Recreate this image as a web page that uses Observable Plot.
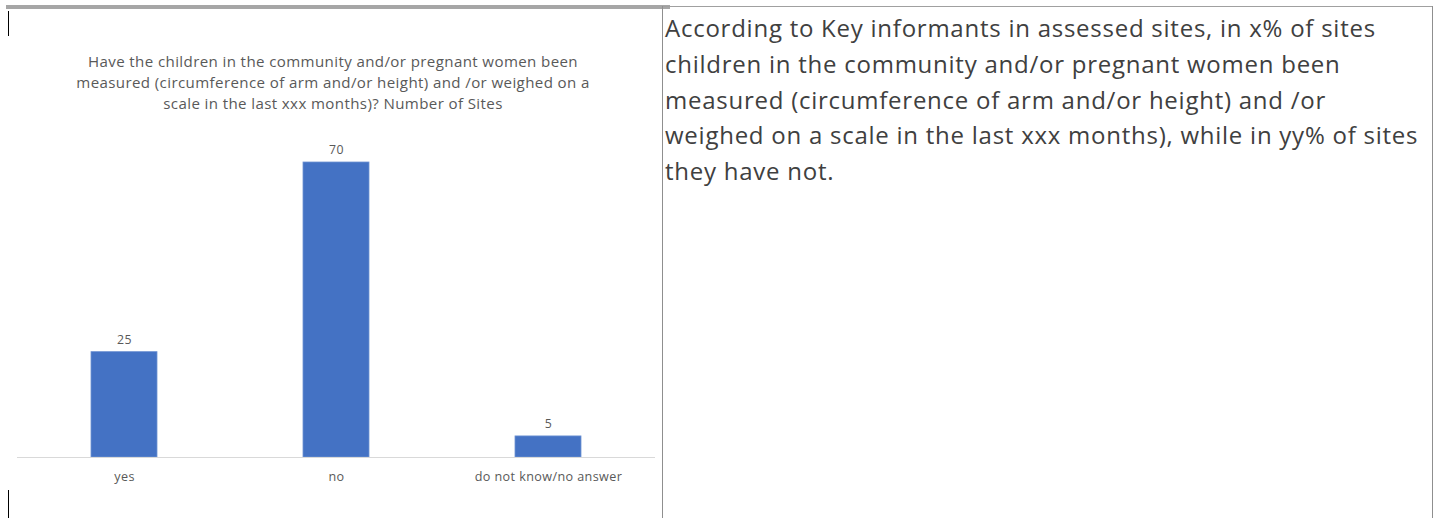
<!DOCTYPE html>
<html>
<head>
<meta charset="utf-8">
<script src="https://cdn.jsdelivr.net/npm/d3@7"></script>
<script src="https://cdn.jsdelivr.net/npm/@observablehq/plot@0.6"></script>
<style>
  html, body { margin: 0; padding: 0; background: #fff; }
  #page { position: relative; width: 1435px; height: 518px; overflow: hidden; background: #fff; }
  .abs { position: absolute; }
  #title { left: 0; top: 51px; width: 666px; text-align: center; font-family: "Open Sans", Lato, sans-serif; font-size: 15.1px; letter-spacing: 0.38px; line-height: 21px; color: #595959; }
  #note { left: 665px; top: 10px; font-family: "Open Sans", Lato, sans-serif; font-size: 24px; letter-spacing: 0.75px; line-height: 35.8px; color: #404040; white-space: nowrap; }
  #chart { left: 0; top: 130px; }
  #chart svg text { letter-spacing: 0.4px; }
</style>
</head>
<body>
<div id="page">
  <div class="abs" style="left:6px;top:5px;width:664px;height:4px;background:#a6a6a6"></div>
  <div class="abs" style="left:663px;top:6px;width:770px;height:1px;background:#a0a0a0"></div>
  <div class="abs" style="left:662px;top:6px;width:1px;height:512px;background:#8f8f8f"></div>
  <div class="abs" style="left:1432px;top:6px;width:1px;height:512px;background:#8f8f8f"></div>
  <div class="abs" style="left:8px;top:11px;width:1px;height:25px;background:#000"></div>
  <div class="abs" style="left:8px;top:490px;width:1px;height:28px;background:#000"></div>
  <div id="title" class="abs"></div>
  <div id="chart" class="abs"></div>
  <div id="note" class="abs"></div>
</div>
<script>
const titleLines = [
  "Have the children in the community and/or pregnant women been",
  "measured (circumference of arm and/or height) and /or weighed on a",
  "scale in the last xxx months)? Number of Sites"
];
const noteLines = [
  "According to Key informants in assessed sites, in x% of sites",
  "children in the community and/or pregnant women been",
  "measured (circumference of arm and/or height) and /or",
  "weighed on a scale in the last xxx months), while in yy% of sites",
  "they have not."
];
const categories = ["yes", "no", "do not know/no answer"];
const values = [25, 70, 5];

document.getElementById("title").innerHTML = titleLines.join("<br>");
document.getElementById("note").innerHTML = noteLines.join("<br>");

const data = categories.map((c, i) => ({category: c, value: values[i]}));

const chart = Plot.plot({
  width: 660,
  height: 370,
  marginLeft: 17,
  marginRight: 5,
  marginTop: 32,
  marginBottom: 43,
  style: {fontFamily: "'Open Sans', Lato, sans-serif", background: "transparent"},
  x: {domain: categories, paddingInner: 0.69, paddingOuter: 0.345, label: null},
  y: {domain: [0, 70], axis: null},
  marks: [
    Plot.barY(data, {x: "category", y: "value", fill: "#4472c4", stroke: "#6f93d3", strokeWidth: 0.8}),
    Plot.ruleY([0], {stroke: "#d9d9d9", strokeWidth: 1}),
    Plot.text(data, {x: "category", y: "value", text: d => String(d.value), dy: -12, fill: "#595959", fontSize: 12.3}),
    Plot.axisX({tickSize: 0, tickPadding: 15, fontSize: 12.6, color: "#595959", label: null})
  ]
});
document.getElementById("chart").appendChild(chart);
</script>
</body>
</html>
